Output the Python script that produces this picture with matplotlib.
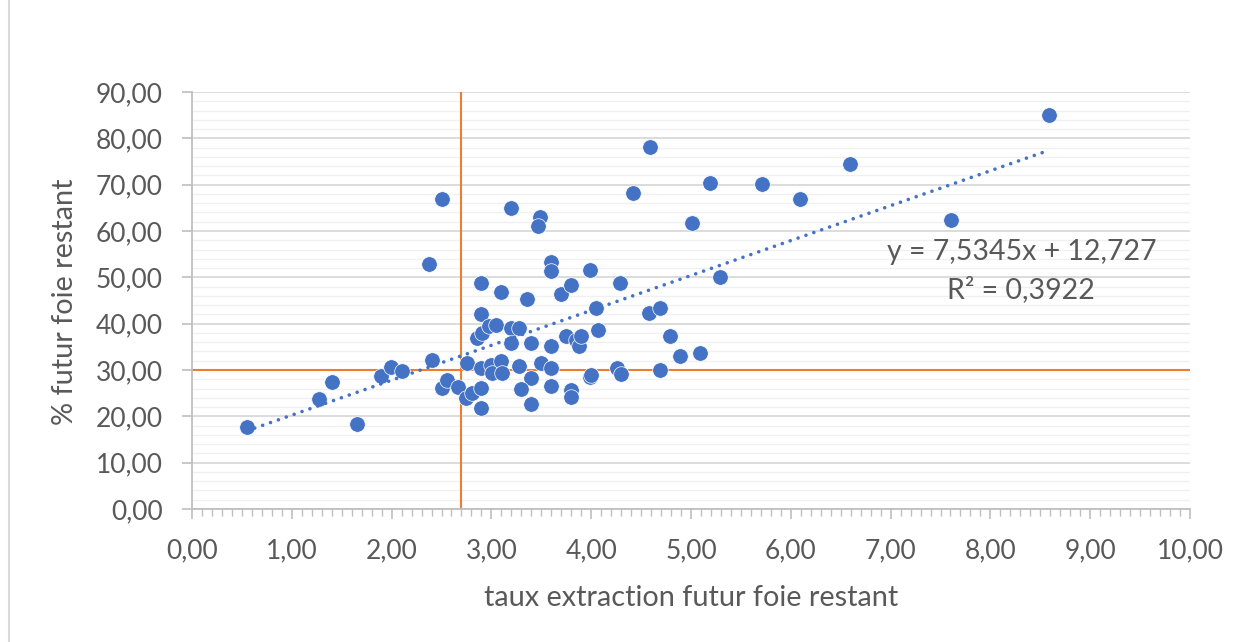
import matplotlib
matplotlib.use("Agg")
import matplotlib.pyplot as plt
from matplotlib.ticker import MultipleLocator, FuncFormatter
from matplotlib.lines import Line2D
import numpy as np

# ---- data ----
taux_extraction = [0.55, 1.27, 1.40, 1.65, 1.89, 1.99, 2.10, 2.40, 2.37, 2.50,
                   2.50, 2.56, 2.67, 2.76, 2.75, 2.81, 2.90, 2.90, 2.90, 2.90,
                   2.86, 2.91, 2.98, 3.05, 2.90, 3.00, 3.01, 3.10, 3.11, 3.10,
                   3.20, 3.28, 3.20, 3.40, 3.28, 3.40, 3.30, 3.40, 3.36, 3.20,
                   3.49, 3.47, 3.50, 3.60, 3.60, 3.60, 3.60, 3.60, 3.70, 3.80,
                   3.80, 3.80, 3.75, 3.85, 3.88, 3.90, 3.99, 3.99, 4.00, 4.05,
                   4.07, 4.26, 4.30, 4.29, 4.42, 4.59, 4.58, 4.69, 4.69, 4.79,
                   4.89, 5.01, 5.09, 5.19, 5.29, 5.71, 6.09, 6.59, 7.61, 8.59]
pct_futur_foie = [17.8, 23.7, 27.5, 18.4, 28.6, 30.7, 29.8, 32.2, 52.8, 66.8,
                  26.1, 27.8, 26.4, 31.5, 23.9, 25.0, 26.1, 21.8, 42.0, 48.8,
                  36.8, 37.9, 39.4, 39.8, 30.4, 31.1, 29.3, 31.9, 29.3, 46.8,
                  39.1, 39.1, 35.8, 35.8, 30.8, 28.3, 25.9, 22.6, 45.4, 65.0,
                  63.0, 61.1, 31.5, 35.1, 30.4, 26.6, 53.4, 51.3, 46.3, 48.4,
                  25.7, 24.1, 37.3, 36.5, 35.1, 37.3, 51.5, 28.4, 29.0, 43.3,
                  38.7, 30.4, 29.2, 48.8, 68.3, 78.2, 42.3, 43.4, 30.1, 37.4,
                  33.0, 61.8, 33.7, 70.3, 50.0, 70.1, 67.0, 74.4, 62.4, 85.0]
trend_slope = 7.5345
trend_intercept = 12.727
r_squared = 0.3922
seuil_x = 2.7
seuil_y = 30.0
x_title = "taux extraction futur foie restant"
y_title = "% futur foie restant"

# ---- style ----
FONT = ["Lato", "DejaVu Sans"]
plt.rcParams["font.family"] = FONT
TXT = "#595959"
BLUE = "#4472C4"
ORANGE = "#ED7D31"

fig = plt.figure(figsize=(12.45, 6.42), dpi=100)
ax = fig.add_axes([192/1245, 1-509/642, (1190-192)/1245, (509-92)/642])

ax.set_xlim(0, 10)
ax.set_ylim(0, 90)

# grid
ax.yaxis.set_major_locator(MultipleLocator(10))
ax.yaxis.set_minor_locator(MultipleLocator(2))
ax.xaxis.set_major_locator(MultipleLocator(1))
ax.xaxis.set_minor_locator(MultipleLocator(0.1))
ax.grid(False)
ax.yaxis.grid(True, which="major", color="#D9D9D9", linewidth=1.3, zorder=0)
ax.yaxis.grid(True, which="minor", color="#F0F0F0", linewidth=1.0, zorder=0)
ax.set_axisbelow(True)

for s in ["top", "right"]:
    ax.spines[s].set_visible(False)
for s in ["left", "bottom"]:
    ax.spines[s].set_color("#BFBFBF")
    ax.spines[s].set_linewidth(1.3)

fmt = FuncFormatter(lambda v, p: f"{v:.2f}".replace(".", ","))
ax.xaxis.set_major_formatter(fmt)
ax.yaxis.set_major_formatter(fmt)

ax.tick_params(axis="x", which="major", length=7, width=1.2, color="#BFBFBF",
               labelsize=19, labelcolor=TXT, pad=14)
ax.tick_params(axis="x", which="minor", length=5, width=1.0, color="#BFBFBF")
ax.tick_params(axis="y", which="major", length=7, width=1.2, color="#BFBFBF",
               labelsize=19, labelcolor=TXT, pad=14)
ax.tick_params(axis="y", which="minor", length=0)

# threshold lines
ax.axvline(seuil_x, color=ORANGE, linewidth=1.5, zorder=1)
ax.axhline(seuil_y, color=ORANGE, linewidth=1.5, zorder=1)

# scatter
ax.scatter(taux_extraction, pct_futur_foie, s=125, color=BLUE,
           edgecolors="white", linewidths=0.5, zorder=3)

# trend line (round dots)
xs = np.array([min(taux_extraction), max(taux_extraction)])
ax.plot(xs, trend_slope * xs + trend_intercept, color=BLUE, linewidth=2.6,
        linestyle=(0, (0.01, 2.3)), dash_capstyle="round", zorder=4)

# equation
eq = f"y = {trend_slope:.4f}x + {trend_intercept:.3f}".replace(".", ",")
r2 = f"R² = {r_squared:.4f}".replace(".", ",")
ax.text(8.31, 55.5, eq, ha="center", va="center", fontsize=20.5, color=TXT, zorder=5)
ax.text(8.31, 47.3, r2, ha="center", va="center", fontsize=20.5, color=TXT, zorder=5)

# axis titles
fig.text(691/1245, 1-598/642, x_title, ha="center", va="center",
         fontsize=20.8, color=TXT)
fig.text(65/1245, 1-302/642, y_title, ha="center", va="center",
         rotation=90, fontsize=20.8, color=TXT)

# chart border (left edge)
fig.add_artist(Line2D([9/1245, 9/1245], [0, 1], transform=fig.transFigure,
                      color="#D9D9D9", linewidth=1.5))

fig.savefig("out.png", dpi=100, facecolor="white")
